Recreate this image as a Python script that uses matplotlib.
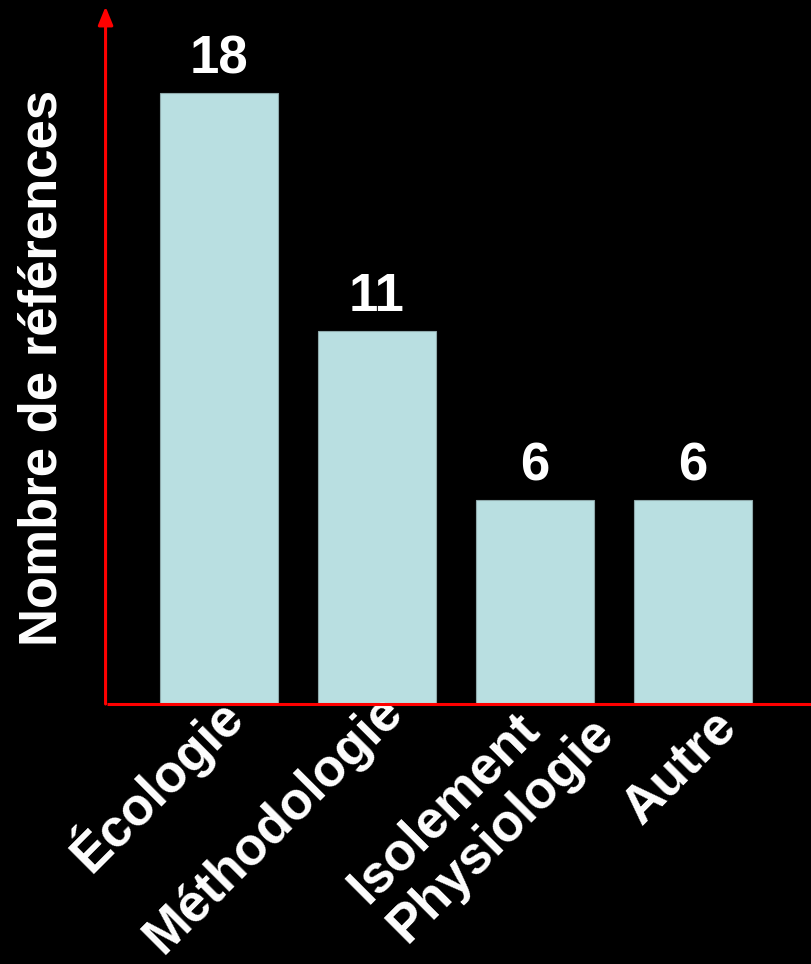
import matplotlib
matplotlib.use("Agg")
import matplotlib.pyplot as plt
from matplotlib.transforms import ScaledTranslation

# Number of references per research theme
categories = ["Écologie", "Méthodologie", "Isolement\nPhysiologie", "Autre"]
counts = [18, 11, 6, 6]
y_label = "Nombre de références"

bar_color = "#B9DFE1"
axis_color = "#FF0000"
font = ["Liberation Sans", "DejaVu Sans"]

# extra nudges (pixels, right / up) for the rotated category labels
label_nudge_px = [(0, 2), (4, 5), (38, 3), (22, -10)]

fig = plt.figure(figsize=(8.11, 9.64), dpi=100, facecolor="black")
ax = fig.add_axes([0.1319, 0.2697, 0.868, 0.722])
ax.set_facecolor("black")

x = list(range(len(categories)))
bars = ax.bar(x, counts, width=0.75, color=bar_color, edgecolor="#8FA9AB", linewidth=0.8)

ax.set_xlim(-0.709, 3.747)
ax.set_ylim(0, 20.5)

# value labels above each bar
for xi, v in zip(x, counts):
    ax.annotate(str(v), (xi, v), xytext=(0, 6), textcoords="offset points",
                ha="center", va="bottom", color="white", fontsize=38,
                fontweight="bold", family=font)

# hide default frame; draw red axes (y axis with arrow head)
for s in ax.spines.values():
    s.set_visible(False)
ax.set_yticks([])
ax.tick_params(axis="x", length=0, pad=0)
ax.set_xticks(x)
ax.set_xticklabels(categories, rotation=45, ha="right", va="center",
                   rotation_mode="anchor", color="white", fontsize=38,
                   fontweight="bold", family=font, multialignment="left",
                   linespacing=1.15)
for lbl, (dx, dy) in zip(ax.get_xticklabels(), label_nudge_px):
    offset = ScaledTranslation((13.5 + dx) / 100, (-4.5 + dy) / 100,
                               fig.dpi_scale_trans)
    lbl.set_transform(lbl.get_transform() + offset)

ax.plot([0, 1], [0, 0], transform=ax.transAxes, color=axis_color, lw=2.2,
        clip_on=False, solid_capstyle="butt")
ax.annotate("", xy=(-0.002, 1.002), xytext=(-0.002, 0.0), xycoords="axes fraction",
            arrowprops=dict(arrowstyle="-|>,head_length=1.1,head_width=0.45",
                            color=axis_color, lw=2.2, shrinkA=0, shrinkB=0))

ax.set_ylabel(y_label, color="white", fontsize=38, fontweight="bold", family=font)
ax.yaxis.set_label_coords(-0.0554, 0.483)

fig.savefig("out.png", dpi=100, facecolor="black")
